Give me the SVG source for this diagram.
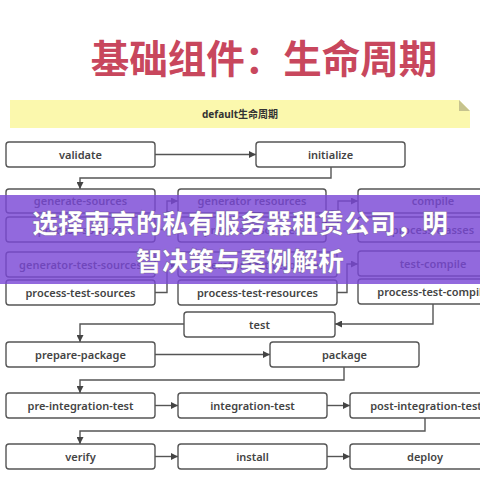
<svg xmlns="http://www.w3.org/2000/svg" width="480" height="480" viewBox="0 0 480 480">
<defs>
<marker id="arr" viewBox="0 0 10 10" refX="10" refY="5" markerWidth="7" markerHeight="7" markerUnits="userSpaceOnUse" orient="auto">
<path d="M0,0 L10,5 L0,10 z" fill="#444"/>
</marker>
</defs>
<style>
.n rect{fill:#fff;stroke:#555;stroke-width:1.4}
.n text{font-family:"Noto Sans","Liberation Sans",sans-serif;font-weight:600;font-size:11px;fill:#444;text-anchor:middle}
.c path{fill:none;stroke:#555;stroke-width:1.4;marker-end:url(#arr)}
</style>
<rect width="480" height="480" fill="#fff"/>
<text x="264" y="73" font-family="'Noto Sans CJK SC',sans-serif" font-weight="700" font-size="38.5" fill="#c8475d" text-anchor="middle">基础组件：生命周期</text>
<g id="banner">
<polygon points="10,100 459,100 470,111 470,128 10,128" fill="#fbf8ad"/>
<polygon points="459,100 459,111 470,111" fill="#c6c38e"/>
<text x="240" y="118" font-family="'Noto Sans','Noto Sans CJK SC',sans-serif" font-weight="700" font-size="10" fill="#333" text-anchor="middle">default生命周期</text>
</g>
<g class="c" id="connectors">
<path d="M155,154.5 H256"/>
<path d="M331,167 V178 H80 V189"/>
<path d="M155,229.5 H167 V201 H178"/>
<path d="M155,292.5 H167 V264 H178"/>
<path d="M326,229.5 H338 V201 H358"/>
<path d="M337,292.5 H347 V264 H358"/>
<path d="M433,304 V324 H335"/>
<path d="M184,324 H80 V342"/>
<path d="M155,354.5 H270"/>
<path d="M344,367 V380 H80 V393"/>
<path d="M155,405.5 H178"/>
<path d="M327,405.5 H350"/>
<path d="M425,418 V431 H80 V444"/>
<path d="M155,456.5 H178"/>
<path d="M327,456.5 H350"/>
</g>
<g class="n" id="validate"><rect x="6" y="142" width="149" height="25" rx="3"/><text x="80.5" y="158.5">validate</text></g>
<g class="n" id="initialize"><rect x="256" y="142" width="149" height="25" rx="3"/><text x="330.5" y="158.5">initialize</text></g>
<g class="n" id="generate-sources"><rect x="6" y="189" width="149" height="24" rx="3"/><text x="80.5" y="205">generate-sources</text></g>
<g class="n" id="process-sources"><rect x="6" y="217" width="149" height="25" rx="3"/><text x="80.5" y="233.5">process-sources</text></g>
<g class="n" id="generator-test-sources"><rect x="6" y="252" width="149" height="25" rx="3"/><text x="80.5" y="268.5">generator-test-sources</text></g>
<g class="n" id="process-test-sources"><rect x="6" y="280" width="149" height="25" rx="3"/><text x="80.5" y="296.5">process-test-sources</text></g>
<g class="n" id="generator-resources"><rect x="178" y="189" width="148" height="24" rx="3"/><text x="252" y="205">generator resources</text></g>
<g class="n" id="process-resources"><rect x="178" y="217" width="148" height="25" rx="3"/><text x="252" y="233.5">process-resources</text></g>
<g class="n" id="generator-test-resources"><rect x="178" y="252" width="159" height="25" rx="3"/><text x="257.5" y="268.5">generator-test-resources</text></g>
<g class="n" id="process-test-resources"><rect x="178" y="280" width="159" height="25" rx="3"/><text x="257.5" y="296.5">process-test-resources</text></g>
<g class="n" id="compile"><rect x="358" y="189" width="150" height="24" rx="3"/><text x="433" y="205">compile</text></g>
<g class="n" id="process-classes"><rect x="358" y="217" width="150" height="25" rx="3"/><text x="433" y="233.5">process-classes</text></g>
<g class="n" id="test-compile"><rect x="358" y="251" width="150" height="25" rx="3"/><text x="433" y="267.5">test-compile</text></g>
<g class="n" id="process-test-compile"><rect x="358" y="279" width="150" height="25" rx="3"/><text x="433" y="295.5">process-test-compile</text></g>
<g class="n" id="test"><rect x="184" y="312" width="151" height="25" rx="3"/><text x="259.5" y="328.5">test</text></g>
<g class="n" id="prepare-package"><rect x="6" y="342" width="149" height="25" rx="3"/><text x="80.5" y="358.5">prepare-package</text></g>
<g class="n" id="package"><rect x="270" y="342" width="149" height="25" rx="3"/><text x="344.5" y="358.5">package</text></g>
<g class="n" id="pre-integration-test"><rect x="6" y="393" width="149" height="25" rx="3"/><text x="80.5" y="409.5">pre-integration-test</text></g>
<g class="n" id="integration-test"><rect x="178" y="393" width="149" height="25" rx="3"/><text x="252.5" y="409.5">integration-test</text></g>
<g class="n" id="post-integration-test"><rect x="350" y="393" width="150" height="25" rx="3"/><text x="426" y="409.5">post-integration-test</text></g>
<g class="n" id="verify"><rect x="6" y="444" width="149" height="25" rx="3"/><text x="80.5" y="460.5">verify</text></g>
<g class="n" id="install"><rect x="178" y="444" width="149" height="25" rx="3"/><text x="252.5" y="460.5">install</text></g>
<g class="n" id="deploy"><rect x="350" y="444" width="150" height="25" rx="3"/><text x="425" y="460.5">deploy</text></g>
<g id="overlay">
<rect x="0" y="195" width="480" height="89" fill="#7a48d6" fill-opacity="0.82"/>
<g font-family="'Noto Sans CJK SC',sans-serif" font-weight="900" font-size="26" fill="#fff" text-anchor="middle" stroke="#4a2c80" stroke-width="0.6" stroke-opacity="0.6">
<text x="240" y="233">选择南京的私有服务器租赁公司，明</text>
<text x="240" y="271">智决策与案例解析</text>
</g>
</g>
</svg>
